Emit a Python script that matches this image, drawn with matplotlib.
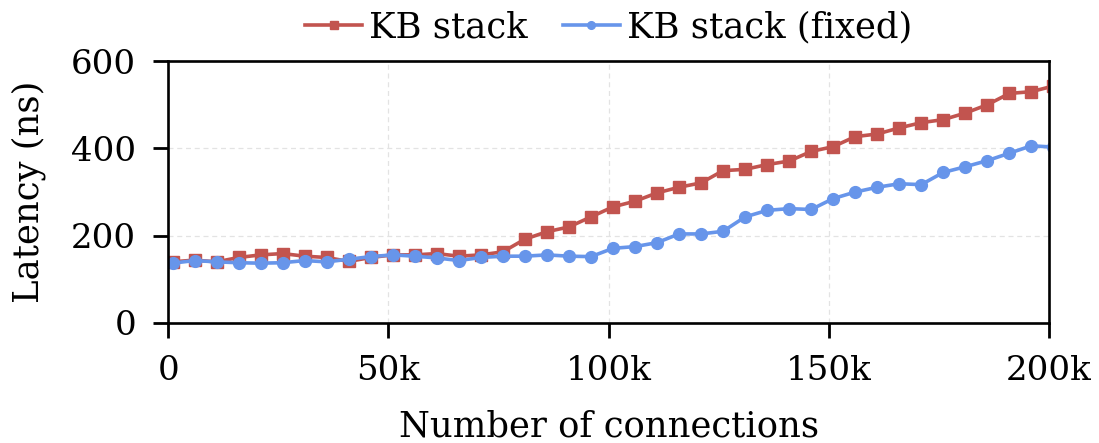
import numpy as np
import matplotlib
matplotlib.use("Agg")
import matplotlib.pyplot as plt

# connection counts sampled every 5k, starting at 1k
conns = np.arange(1000, 202000, 5000)

kb_stack = [140, 144, 140, 150, 156, 159, 153, 150, 141, 150,
            156, 156, 159, 153, 156, 163, 192, 209, 220, 243,
            266, 279, 298, 311, 321, 349, 352, 363, 371, 393,
            404, 427, 433, 447, 459, 466, 481, 500, 526, 530,
            543]
kb_fixed = [137, 143, 140, 138, 137, 138, 143, 140, 146, 152,
            156, 153, 149, 143, 150, 153, 153, 156, 153, 152,
            171, 175, 184, 204, 204, 210, 243, 258, 262, 260,
            285, 300, 311, 319, 317, 345, 358, 372, 389, 406,
            403]

xticks = [0, 50000, 100000, 150000, 200000]
xtick_labels = ["0", "50k", "100k", "150k", "200k"]
yticks = [0, 200, 400, 600]

plt.rcParams["font.family"] = "DejaVu Serif"
plt.rcParams["font.size"] = 24.5

fig = plt.figure(figsize=(10.99, 4.43), dpi=100)
ax = fig.add_axes([0.153, 0.271, 0.8015, 0.591])

ax.plot(conns, kb_stack, color="#c2544f", marker="s", markersize=8.5,
        linewidth=2.6, label="KB stack")
ax.plot(conns, kb_fixed, color="#6795ea", marker="o", markersize=8.5,
        linewidth=2.6, label="KB stack (fixed)")

ax.set_xlim(0, 200000)
ax.set_ylim(0, 600)
ax.set_xticks(xticks)
ax.set_xticklabels(xtick_labels)
ax.set_yticks(yticks)
ax.grid(True, linestyle=(0, (4, 3)), color="#e3e3e3", linewidth=0.9)
ax.set_axisbelow(True)

for s in ax.spines.values():
    s.set_linewidth(1.9)
ax.tick_params(direction="out", length=11, width=2)
ax.tick_params(axis="x", pad=12)
ax.tick_params(axis="y", pad=12)

ax.set_xlabel("Number of connections", fontsize=25.5, labelpad=16)
ax.set_ylabel("Latency (ns)", fontsize=25.5, labelpad=18)

ax.legend(loc="center", bbox_to_anchor=(0.5, 1.13), ncol=2,
          frameon=False, handlelength=1.6, markerscale=0.65,
          columnspacing=1.0, handletextpad=0.2, borderaxespad=0,
          borderpad=0, fontsize=25.5)

fig.savefig("out.png", dpi=100)
